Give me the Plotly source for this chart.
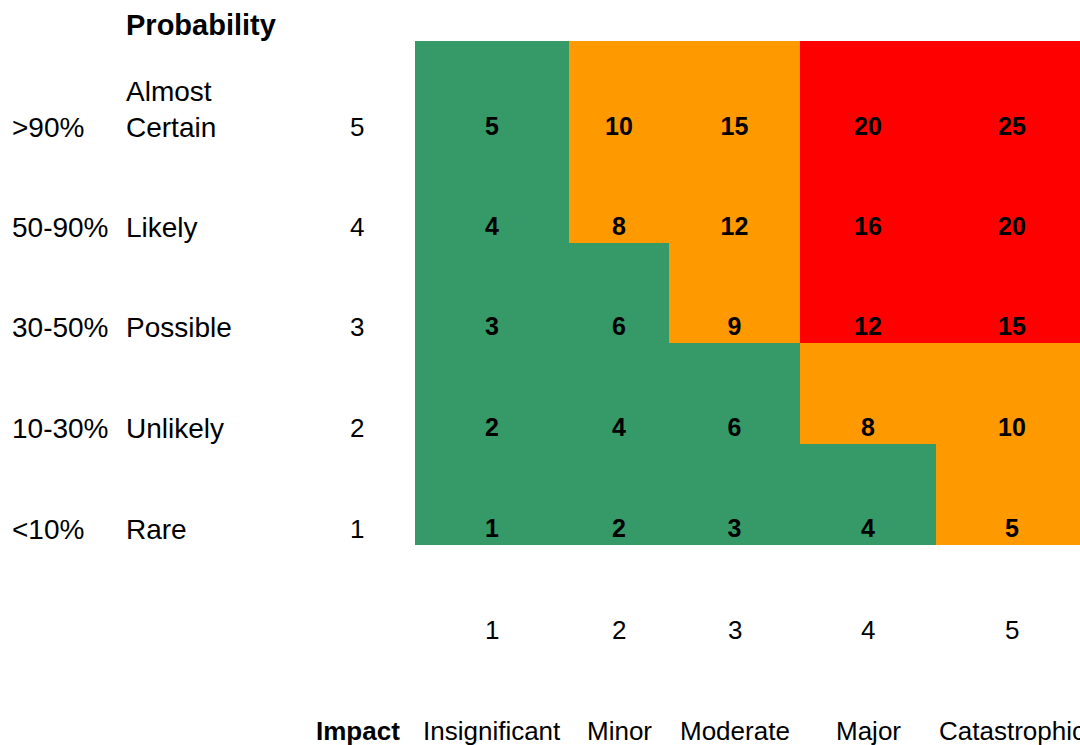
import plotly.graph_objects as go

# ---- data ----
impact_levels = [1, 2, 3, 4, 5]
impact_labels = ["Insignificant", "Minor", "Moderate", "Major", "Catastrophic"]
prob_levels = [5, 4, 3, 2, 1]                      # top to bottom
prob_labels = ["Almost<br>Certain", "Likely", "Possible", "Unlikely", "Rare"]
prob_percent = [">90%", "50-90%", "30-50%", "10-30%", "<10%"]
scores = [
    [5, 10, 15, 20, 25],
    [4, 8, 12, 16, 20],
    [3, 6, 9, 12, 15],
    [2, 4, 6, 8, 10],
    [1, 2, 3, 4, 5],
]
# 0 = low (green), 1 = medium (orange), 2 = high (red)
risk_class = [
    [0, 1, 1, 2, 2],
    [0, 1, 1, 2, 2],
    [0, 0, 1, 2, 2],
    [0, 0, 0, 1, 1],
    [0, 0, 0, 0, 1],
]

# ---- layout (pixel coordinates of the table grid) ----
W, H = 1080, 745
col_edges = [415, 569, 669, 800, 936, 1088]
row_edges = [41, 143, 243, 343, 444, 545]
text_offset = 16            # label centre sits this far above the bottom of each row
x_pct, x_lbl, x_lvl = 10, 124, 357
y_axis_nums, y_axis_lbls = 630, 731
FONT = "Liberation Sans, Arial, sans-serif"
FS_LEFT, FS_BOTTOM, FS_CELL, FS_TITLE = 28, 26, 25, 29
GREEN, ORANGE, RED = "#359A67", "#FF9900", "#FF0000"

col_centers = [(a + b) / 2 for a, b in zip(col_edges[:-1], col_edges[1:])]
row_text_y = [b - text_offset for b in row_edges[1:]]

fig = go.Figure()
fig.add_trace(go.Heatmap(
    x=col_edges, y=row_edges, z=risk_class,
    zmin=0, zmax=2, zsmooth=False, showscale=False, hoverinfo="skip",
    colorscale=[[0, GREEN], [0.25, GREEN], [0.25, ORANGE], [0.75, ORANGE],
                [0.75, RED], [1, RED]],
))

xs, ys, ts = [], [], []
for i, row in enumerate(scores):
    for j, v in enumerate(row):
        xs.append(col_centers[j]); ys.append(row_text_y[i] + 2); ts.append(str(v))
fig.add_trace(go.Scatter(
    x=xs, y=ys, text=ts, mode="text", hoverinfo="skip",
    textfont=dict(family=FONT, size=FS_CELL, color="black", weight="bold"),
    textposition="middle center", showlegend=False,
))

ann = []
def add(x, y, text, size, xanchor="left", bold=False, yanchor="middle"):
    ann.append(dict(x=x, y=y, xref="x", yref="y", text=text, showarrow=False,
                    xanchor=xanchor, yanchor=yanchor, align="left",
                    font=dict(family=FONT, size=size, color="black",
                              weight="bold" if bold else "normal")))

add(x_lbl, 25, "Probability", FS_TITLE, bold=True)
for i in range(5):
    add(x_pct, row_text_y[i], prob_percent[i], FS_LEFT)
    if "<br>" in prob_labels[i]:
        add(x_lbl, row_text_y[i] + 18, prob_labels[i], FS_LEFT, yanchor="bottom")
    else:
        add(x_lbl, row_text_y[i], prob_labels[i], FS_LEFT)
    add(x_lvl, row_text_y[i], str(prob_levels[i]), FS_BOTTOM, xanchor="center")
for j in range(5):
    add(col_centers[j], y_axis_nums, str(impact_levels[j]), FS_BOTTOM, xanchor="center")
    add(col_centers[j], y_axis_lbls, impact_labels[j], FS_BOTTOM, xanchor="center")
add(402, y_axis_lbls, "Impact", FS_BOTTOM, xanchor="right", bold=True)

fig.update_layout(
    width=W, height=H, margin=dict(l=0, r=0, t=0, b=0),
    paper_bgcolor="white", plot_bgcolor="white",
    showlegend=False, annotations=ann,
    xaxis=dict(range=[0, W], visible=False, fixedrange=True),
    yaxis=dict(range=[H, 0], visible=False, fixedrange=True),
)
fig.write_html("out.html", config={"displayModeBar": False})
